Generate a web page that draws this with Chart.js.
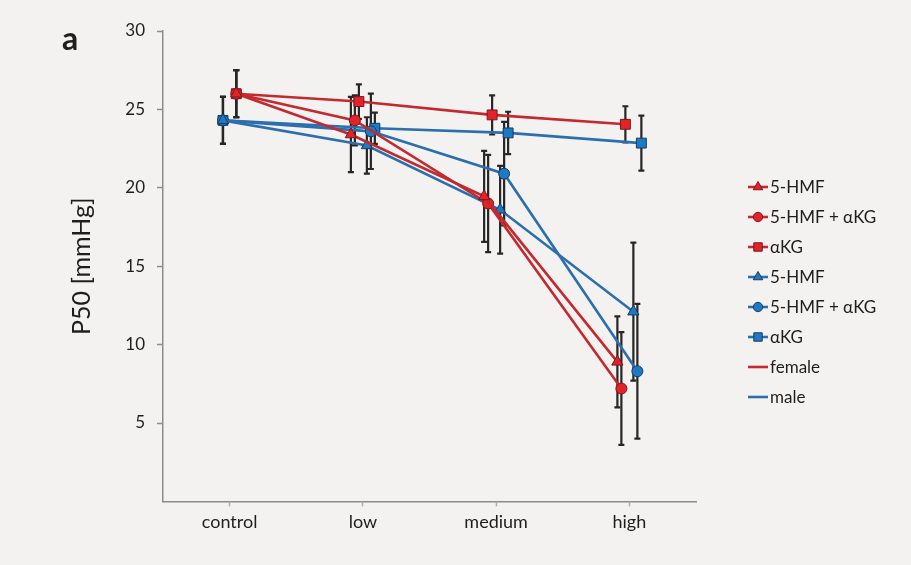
<!DOCTYPE html>
<html>
<head>
<meta charset="utf-8">
<script src="https://cdn.jsdelivr.net/npm/chart.js@4.4.0/dist/chart.umd.min.js"></script>
<style>
html,body{margin:0;padding:0;background:#f3f2f0;}
#wrap{position:relative;width:911px;height:565px;}
</style>
</head>
<body>
<div id="wrap"><canvas id="c" width="911" height="565"></canvas></div>
<script>
// ---- data ----
const categories = ['control', 'low', 'medium', 'high'];
const yTickValues = [5, 10, 15, 20, 25, 30];

const femaleHMF        = [26.0, 23.4, 19.45, 8.9];
const femaleHMFErr     = [1.5, 2.4, 2.9, 2.9];
const femaleHMFaKG     = [26.0, 24.3, 19.0, 7.2];
const femaleHMFaKGErr  = [1.5, 1.6, 3.1, 3.6];
const femaleAKG        = [26.0, 25.5, 24.65, 24.05];
const femaleAKGErr     = [1.5, 1.1, 1.25, 1.15];

const maleHMF          = [24.3, 22.7, 18.6, 12.1];
const maleHMFErr       = [1.5, 1.8, 2.8, 4.4];
const maleHMFaKG       = [24.3, 23.6, 20.9, 8.3];
const maleHMFaKGErr    = [1.5, 2.4, 3.3, 4.3];
const maleAKG          = [24.3, 23.8, 23.5, 22.85];
const maleAKGErr       = [1.5, 1.0, 1.35, 1.75];

const seriesLabels = ['5-HMF', '5-HMF + \u03b1KG', '\u03b1KG'];
const sexLabels = ['female', 'male'];

// ---- styles ----
const sexStyle = {
  female: {line: '#c22a2f', fill: '#e3222a', edge: '#7a1619', controlShift: 0.05},
  male:   {line: '#2c6fae', fill: '#1c79c4', edge: '#1b3a5c', controlShift: -0.05}
};
const shapes = [
  {pointStyle: 'triangle', radius: 6.5},
  {pointStyle: 'circle', radius: 5.5},
  {pointStyle: 'rect', radius: 7}
];
const seriesDefs = [
  {sex: 'female', idx: 0, values: femaleHMF,    errors: femaleHMFErr,    jitter: -0.09},
  {sex: 'female', idx: 1, values: femaleHMFaKG, errors: femaleHMFaKGErr, jitter: -0.06},
  {sex: 'female', idx: 2, values: femaleAKG,    errors: femaleAKGErr,    jitter: -0.03},
  {sex: 'male',   idx: 0, values: maleHMF,      errors: maleHMFErr,      jitter: 0.03},
  {sex: 'male',   idx: 1, values: maleHMFaKG,   errors: maleHMFaKGErr,   jitter: 0.06},
  {sex: 'male',   idx: 2, values: maleAKG,      errors: maleAKGErr,      jitter: 0.09}
];

const FONT = 'Lato, "Open Sans", "DejaVu Sans", sans-serif';
const TEXT = '#1e1e1e';

const datasets = seriesDefs.map(s => {
  const st = sexStyle[s.sex];
  const sh = shapes[s.idx];
  return {
    label: seriesLabels[s.idx],
    sex: s.sex,
    errors: s.errors,
    data: s.values.map((v, i) => ({x: i + 1 + (i === 0 ? st.controlShift : s.jitter), y: v})),
    borderColor: st.line,
    borderWidth: 2.6,
    tension: 0,
    fill: false,
    pointStyle: sh.pointStyle,
    pointRadius: sh.radius,
    pointHoverRadius: sh.radius,
    pointBackgroundColor: st.fill,
    pointBorderColor: st.edge,
    pointBorderWidth: 1
  };
});

// error bars drawn through the y scale
const errorBarPlugin = {
  id: 'errorBars',
  beforeDatasetsDraw(chart) {
    const ctx = chart.ctx;
    const yScale = chart.scales.y;
    ctx.save();
    ctx.strokeStyle = '#262626';
    ctx.lineWidth = 2.2;
    chart.data.datasets.forEach((ds, di) => {
      const meta = chart.getDatasetMeta(di);
      meta.data.forEach((pt, i) => {
        const v = ds.data[i].y, e = ds.errors[i];
        const yTop = yScale.getPixelForValue(v + e);
        const yBot = yScale.getPixelForValue(v - e);
        const x = pt.x;
        ctx.beginPath();
        ctx.moveTo(x, yTop); ctx.lineTo(x, yBot);
        ctx.moveTo(x - 3, yTop); ctx.lineTo(x + 3, yTop);
        ctx.moveTo(x - 3, yBot); ctx.lineTo(x + 3, yBot);
        ctx.stroke();
      });
    });
    ctx.restore();
  }
};

// panel letter + legend
const annotationPlugin = {
  id: 'annotations',
  afterDraw(chart) {
    const ctx = chart.ctx;
    ctx.save();
    ctx.fillStyle = TEXT;
    ctx.font = 'bold 32px ' + FONT;
    ctx.textAlign = 'left';
    ctx.textBaseline = 'middle';
    ctx.fillText('a', 62, 40);

    const lx = 758, top = 187, gap = 30;
    ctx.font = '17px ' + FONT;
    const items = chart.data.datasets.map(ds => ({
      text: ds.label, line: ds.borderColor, ds
    }));
    sexLabels.forEach(s => items.push({text: s, line: sexStyle[s].line, ds: null}));
    items.forEach((it, i) => {
      const y = top + i * gap;
      ctx.strokeStyle = it.line;
      ctx.lineWidth = 2.6;
      ctx.beginPath();
      ctx.moveTo(lx - 10, y); ctx.lineTo(lx + 10, y);
      ctx.stroke();
      if (it.ds) {
        ctx.fillStyle = it.ds.pointBackgroundColor;
        ctx.strokeStyle = it.ds.pointBorderColor;
        ctx.lineWidth = 1;
        Chart.helpers.drawPoint(ctx, {
          pointStyle: it.ds.pointStyle,
          radius: it.ds.pointRadius * 0.85,
          rotation: 0,
          borderWidth: 1
        }, lx, y);
      }
      ctx.fillStyle = TEXT;
      ctx.fillText(it.text, lx + 12, y + 1);
    });
    ctx.restore();
  }
};

new Chart(document.getElementById('c'), {
  type: 'line',
  data: {datasets},
  options: {
    responsive: false,
    animation: false,
    devicePixelRatio: 1,
    layout: {padding: {left: 55, top: 31, right: 215, bottom: 27}},
    plugins: {legend: {display: false}, tooltip: {enabled: false}},
    scales: {
      x: {
        type: 'linear',
        min: 0.5,
        max: 4.5,
        afterBuildTicks: s => { s.ticks = categories.map((c, i) => ({value: i + 1})); },
        ticks: {
          callback: v => categories[v - 1] ?? '',
          color: TEXT,
          font: {family: FONT, size: 18},
          padding: 5,
          maxRotation: 0,
          autoSkip: false
        },
        grid: {display: true, drawOnChartArea: false, drawTicks: true, tickLength: 5, tickColor: '#b0b0b0', tickWidth: 1.5},
        border: {display: true, color: '#8c8c8c', width: 1.5}
      },
      y: {
        min: 0,
        max: 30,
        afterBuildTicks: s => { s.ticks = yTickValues.map(v => ({value: v})); },
        afterFit: s => { s.width = 108; },
        ticks: {color: TEXT, font: {family: FONT, size: 17}, padding: 12},
        grid: {display: true, drawOnChartArea: false, drawTicks: true, tickLength: 6, tickColor: '#8c8c8c', tickWidth: 1.5},
        border: {display: true, color: '#8c8c8c', width: 1.5},
        title: {display: true, text: 'P50 [mmHg]', color: TEXT, font: {family: FONT, size: 25}, padding: {top: 12, bottom: 0}}
      }
    }
  },
  plugins: [errorBarPlugin, annotationPlugin]
});
</script>
</body>
</html>
